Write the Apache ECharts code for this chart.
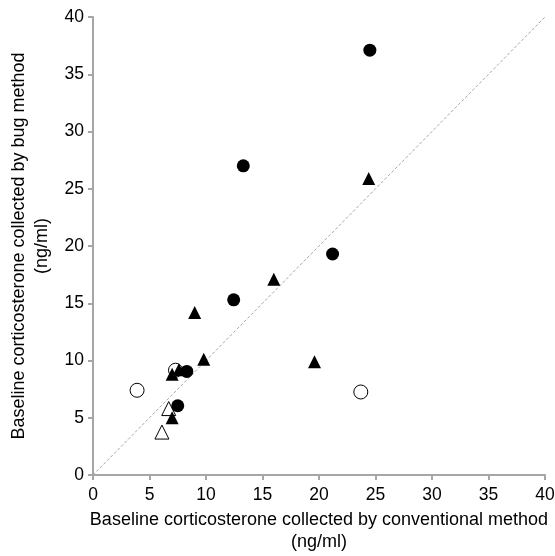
<!DOCTYPE html>
<html>
<head>
<meta charset="utf-8">
<script src="https://cdn.jsdelivr.net/npm/echarts@6/dist/echarts.min.js"></script>
<style>
  html, body { margin: 0; padding: 0; background: #fff; }
  #chart { width: 555px; height: 556px; }
</style>
</head>
<body>
<div id="chart"></div>
<script>
"use strict";

// Conventional (x) vs bug (y) baseline corticosterone, ng/ml
const FILLED_CIRCLES = [
  [24.5, 37.1], [13.3, 27.0], [21.2, 19.3], [12.45, 15.3], [8.3, 9.05], [7.5, 6.05],
];
const FILLED_TRIANGLES = [
  [24.4, 25.9], [16.0, 17.1], [9.0, 14.2], [9.8, 10.1], [19.6, 9.9],
  [7.0, 8.8], [7.6, 9.2], [7.0, 5.0],
];
const OPEN_TRIANGLES = [[6.7, 5.8], [6.1, 3.75]];
const OPEN_CIRCLES = [[3.9, 7.4], [23.7, 7.25], [7.3, 9.15]];
// 1:1 reference line
const IDENTITY_LINE = [[0, 0], [40, 40]];

const AXIS_TICKS = { min: 0, max: 40, interval: 5 };
const X_NAME = "Baseline corticosterone collected by conventional method\n(ng/ml)";
const Y_NAME = "Baseline corticosterone collected by bug method\n(ng/ml)";

const FONT = "'Liberation Sans', Arial, sans-serif";
const AXIS_GREY = "#a6a6a6";

function axis(name, gap, labelMargin, lineHeight) {
  return {
    type: "value",
    min: AXIS_TICKS.min,
    max: AXIS_TICKS.max,
    interval: AXIS_TICKS.interval,
    name: name,
    nameLocation: "middle",
    nameGap: gap,
    nameTextStyle: { color: "#000", fontSize: 18, fontFamily: FONT, lineHeight: lineHeight },
    axisLine: { show: true, lineStyle: { color: AXIS_GREY, width: 2 } },
    axisTick: { show: true, inside: false, length: 5, lineStyle: { color: AXIS_GREY, width: 2 } },
    axisLabel: { color: "#000", fontSize: 17.5, fontFamily: FONT, margin: labelMargin },
    splitLine: { show: false },
  };
}

// scatter defaults to 0.8 opacity; the reference marks are solid
const OPEN_STYLE = { color: "#fff", borderColor: "#000", borderWidth: 1, opacity: 1 };
const FILLED_STYLE = { color: "#000", opacity: 1 };

const chart = echarts.init(document.getElementById("chart"), null, { renderer: "canvas" });

chart.setOption({
  backgroundColor: "#fff",
  animation: false,
  // fixed plot box; don't let v6 shrink it to fit the edge labels
  grid: { left: 93, right: 10, top: 17, bottom: 81, outerBoundsMode: "none", containLabel: false },
  xAxis: axis(X_NAME, 34, 11, 22),
  yAxis: axis(Y_NAME, 38, 9, 23),
  series: [
    {
      type: "line",
      data: IDENTITY_LINE,
      showSymbol: false,
      lineStyle: { color: "#a6a6a6", width: 1, type: [3, 2] },
      z: 1,
    },
    { type: "scatter", data: OPEN_CIRCLES, symbol: "circle", symbolSize: 14, itemStyle: OPEN_STYLE, z: 2 },
    { type: "scatter", data: OPEN_TRIANGLES, symbol: "triangle", symbolSize: 14, itemStyle: OPEN_STYLE, z: 3 },
    { type: "scatter", data: FILLED_TRIANGLES, symbol: "triangle", symbolSize: 13, itemStyle: FILLED_STYLE, z: 4 },
    { type: "scatter", data: FILLED_CIRCLES, symbol: "circle", symbolSize: 13, itemStyle: FILLED_STYLE, z: 5 },
  ],
});
</script>
</body>
</html>
